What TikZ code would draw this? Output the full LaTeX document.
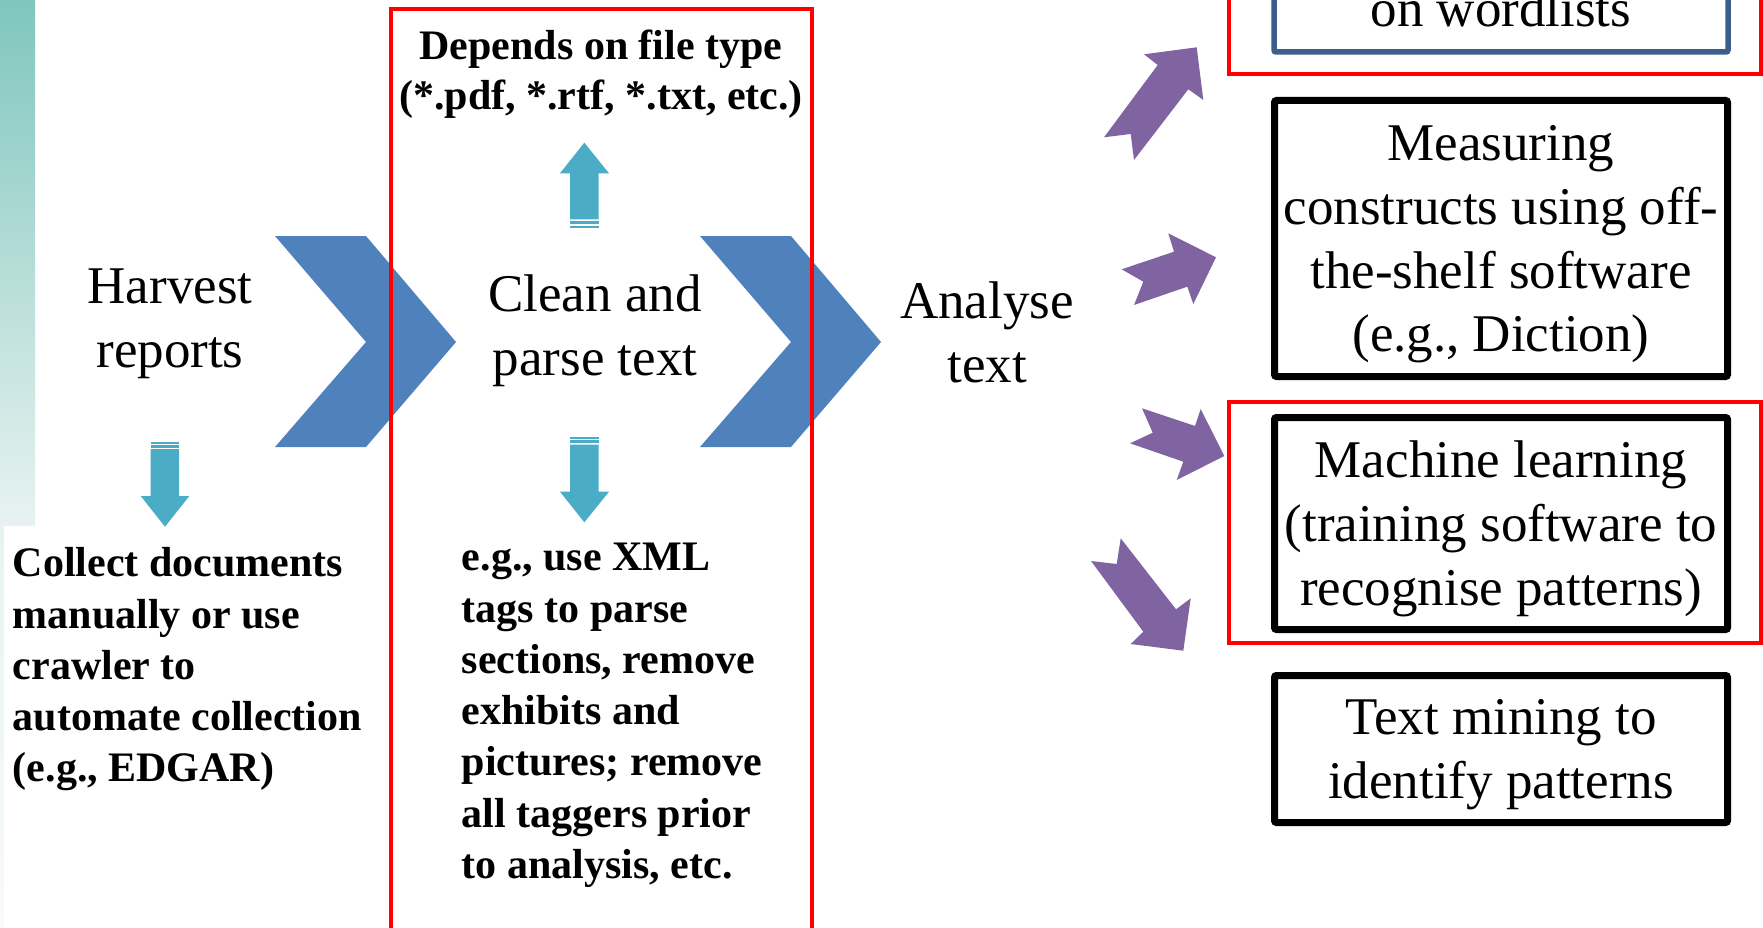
\documentclass[tikz,border=0pt]{standalone}
\usepackage{fontspec}
\setmainfont{Liberation Serif}
\definecolor{chevblue}{HTML}{4F81BD}
\definecolor{cyanarrow}{HTML}{4BACC6}
\definecolor{purplearrow}{HTML}{8064A2}
\definecolor{boxblue}{HTML}{3B5E8C}
\definecolor{barTop}{HTML}{7FC6BE}
\definecolor{barMidA}{HTML}{B4DCD7}
\definecolor{barLow}{HTML}{E8F3F1}
\definecolor{barBot}{HTML}{F7FBFA}
\pgfdeclareverticalshading{leftbar}{100bp}{color(0bp)=(barBot); color(25bp)=(barBot); color(46.5bp)=(barLow); color(61bp)=(barMidA); color(75bp)=(barTop); color(100bp)=(barTop)}
\tikzset{
  regtext/.style={font=\fontsize{53}{63.7}\selectfont, align=center, inner sep=0pt, anchor=base},
  boldtext/.style={font=\fontsize{42}{51.3}\selectfont\bfseries, inner sep=0pt},
  chevron/.style={fill=chevblue, draw=none},
  cyanfill/.style={fill=cyanarrow, draw=none},
  purplefill/.style={fill=purplearrow, draw=none},
  blackbox/.style={draw=black, line width=7pt, rounded corners=2pt, inner sep=0pt, fill=white},
  redframe/.style={draw=red, line width=4pt},
}
\begin{document}
\begin{tikzpicture}[x=1pt,y=-1pt]
\useasboundingbox (0,0) rectangle (1763,928);
\clip (0,0) rectangle (1763,928);
% left gradient bar
\shade[shading=leftbar] (0,0) rectangle (35,928);
\fill[white] (4,526) rectangle (385,928);
% chevrons
\fill[chevron] (275,236) -- (366,236) -- (456,342) -- (366,447) -- (275,447) -- (366,342) -- cycle;
\fill[chevron] (700,236) -- (791,236) -- (881,342) -- (791,447) -- (700,447) -- (791,342) -- cycle;
% cyan arrows
\fill[cyanfill] (584.3,142.7) -- (609,173.3) -- (598.7,173.3) -- (598.7,219.3) -- (570,219.3) -- (570,173.3) -- (560,173.3) -- cycle;
\fill[cyanfill] (570,220.7) rectangle (598.7,224);
\fill[cyanfill] (570,225.7) rectangle (598.7,227.7);
\fill[cyanfill] (570,444.7) -- (598.7,444.7) -- (598.7,491.7) -- (609,491.7) -- (584.3,522.3) -- (560,491.7) -- (570,491.7) -- cycle;
\fill[cyanfill] (570,437.3) rectangle (598.7,439);
\fill[cyanfill] (570,440.3) rectangle (598.7,443.3);
\fill[cyanfill] (150.7,449) -- (179,449) -- (179,496) -- (189.3,496) -- (165,526.7) -- (140.7,496) -- (150.7,496) -- cycle;
\fill[cyanfill] (150.7,441.7) rectangle (179,443.5);
\fill[cyanfill] (150.7,444.7) rectangle (179,447.7);
% purple arrows
\fill[purplefill] (1196.7,47.3) -- (1203.3,100) -- (1188.3,89.3) -- (1134,160) -- (1130.7,134) -- (1104,137.3) -- (1157.7,65) -- (1144,54.3) -- cycle;
\fill[purplefill] (1216,257.3) -- (1193.3,304) -- (1187.3,286.7) -- (1134,305) -- (1143.3,281.7) -- (1121.7,269.3) -- (1174,251.7) -- (1168.3,233.3) -- cycle;
\fill[purplefill] (1224.3,456) -- (1176.7,480) -- (1183.3,461.7) -- (1130,443.3) -- (1152.7,432.7) -- (1142,408.3) -- (1195,426) -- (1200.7,409) -- cycle;
\fill[purplefill] (1183.3,650.7) -- (1130.7,644) -- (1143.3,631.7) -- (1091,561) -- (1116.7,564) -- (1120.7,538.3) -- (1176,609.3) -- (1190.7,598.3) -- cycle;
% right boxes
\draw[draw=boxblue, line width=5.5pt, rounded corners=2pt] (1274,-60) rectangle (1728,52);
\node[blackbox, minimum width=453, minimum height=276] (measure) at (1501,238.5) {};
\node[blackbox, minimum width=453, minimum height=212] (machine) at (1501,523.5) {};
\node[blackbox, minimum width=453, minimum height=147] (mining) at (1501,749) {};
% texts (base anchor = baseline of last line)
\node[regtext] (wordlists) at (1501,26.7) {on wordlists};
\node[regtext] (measuretxt) at (1501,351.7) {Measuring\\constructs using off-\\the-shelf software\\(e.g., Diction)};
\node[regtext] (machinetxt) at (1501,605) {Machine learning\\(training software to\\recognise patterns)};
\node[regtext] (miningtxt) at (1501,798.3) {Text mining to\\identify patterns};
\node[regtext] (harvest) at (170,367) {Harvest\\reports};
\node[regtext] (clean) at (595,375) {Clean and\\parse text};
\node[regtext] (analyse) at (987,382) {Analyse\\text};
\node[boldtext, align=center, anchor=base, font=\fontsize{42}{50}\selectfont\bfseries] (depends) at (601,110) {Depends on file type\\(*.pdf, *.rtf, *.txt, etc.)};
\node[boldtext, align=left, anchor=base west] (collect) at (12.7,781.9) {Collect documents\\manually or use\\crawler to\\automate collection\\(e.g., EDGAR)};
\node[boldtext, align=left, anchor=base west] (egxml) at (461.7,878.5) {e.g., use XML\\tags to parse\\sections, remove\\exhibits and\\pictures; remove\\all taggers prior\\to analysis, etc.};
% red frames
\draw[redframe] (390.5,9.5) rectangle (811.5,960);
\draw[redframe] (1229,-60) rectangle (1761,74.5);
\draw[redframe] (1229,402) rectangle (1761,643);
\end{tikzpicture}
\end{document}
